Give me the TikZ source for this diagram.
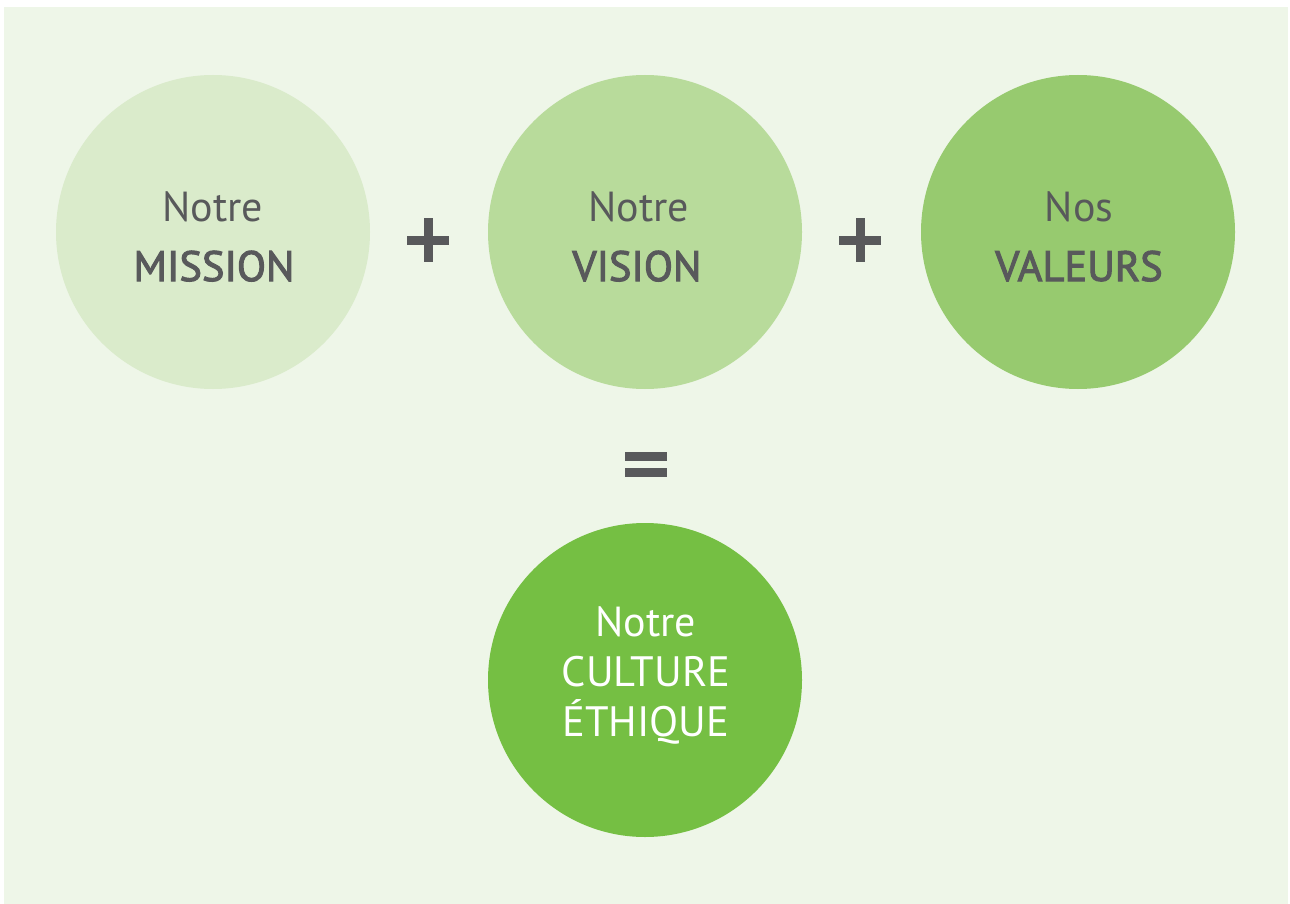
\documentclass[tikz,border=0pt]{standalone}
\usepackage{fontspec}
\setmainfont{PT Sans}
\newfontfamily\medfont[FakeBold=2.4]{PT Sans}
\definecolor{backgr}{HTML}{EEF6E8}
\definecolor{mission}{HTML}{DAEBCB}
\definecolor{vision}{HTML}{B8DB9B}
\definecolor{valeurs}{HTML}{97CA6F}
\definecolor{culture}{HTML}{75BF43}
\definecolor{ink}{HTML}{58595B}
\begin{document}
\begin{tikzpicture}[x=1pt,y=-1pt]
    \tikzset{
      disc/.style={circle,minimum size=314pt,inner sep=0pt},
      small/.style={font=\fontsize{42}{50}\selectfont,anchor=base,inner sep=0pt},
      big/.style={font=\medfont\fontsize{42.5}{50}\selectfont,anchor=base,inner sep=0pt},
      large/.style={font=\fontsize{42.5}{50}\selectfont,anchor=base,inner sep=0pt},
      sign/.style={fill=ink}};
    \useasboundingbox (0,0) rectangle (1290,904);
    \fill[backgr] (4,7) rectangle (1288,904);
    % the four circles
    \node[disc,fill=mission] (M) at (213,232) {};
    \node[disc,fill=vision] (V) at (645,232) {};
    \node[disc,fill=valeurs] (W) at (1078,232) {};
    \node[disc,fill=culture] (C) at (645,680) {};
    % texts
    \node[small,text=ink] (M1) at (213,222) {Notre};
    \node[big,text=ink] (M2) at (214,281) {MISSION};
    \node[small,text=ink] (V1) at (639,222) {Notre};
    \node[big,text=ink] (V2) at (637,281) {VISION};
    \node[small,text=ink] (W1) at (1079,222) {Nos};
    \node[big,text=ink] (W2) at (1079,281) {VALEURS};
    \node[small,text=white] (C1) at (646,636) {Notre};
    \node[large,text=white] (C2) at (646,686) {CULTURE};
    \node[large,text=white] (C3) at (646,736) {ÉTHIQUE};
    % plus and equals
    \foreach \x in {428,860} {
      \fill[sign] (\x-21,235.5) rectangle (\x+21,244.5);
      \fill[sign] (\x-4.5,218) rectangle (\x+4.5,262);
    }
    \fill[sign] (625,452) rectangle (667,461);
    \fill[sign] (625,467.5) rectangle (667,476.5);
  \end{tikzpicture}
\end{document}
